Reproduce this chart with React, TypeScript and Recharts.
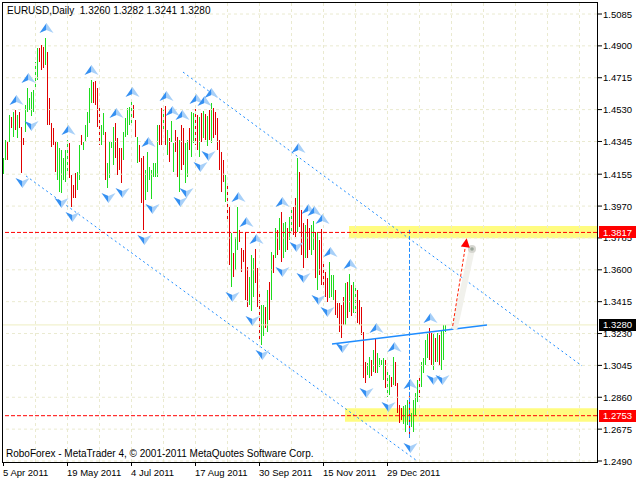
import React from 'react';
import {
  ComposedChart,
  Bar,
  Cell,
  Scatter,
  XAxis,
  YAxis,
  ReferenceLine,
  ReferenceArea,
} from 'recharts';

// ---------- DATA (EURUSD daily, bar index 0 = 5 Apr 2011) ----------
const highs = [
  1.4249, 1.4354, 1.4342, 1.4499, 1.4487, 1.4516, 1.4528, 1.4499, 1.4516, 1.4429,
  1.4365, 1.4557, 1.4655, 1.4597, 1.4632, 1.4644, 1.4806, 1.4888, 1.4888, 1.4905,
  1.4893, 1.4946, 1.4864, 1.4597, 1.4452, 1.4423, 1.4342, 1.4342, 1.4307, 1.4295,
  1.4249, 1.4295, 1.4354, 1.4336, 1.415, 1.4092, 1.4162, 1.4168, 1.4324, 1.4383,
  1.4342, 1.4441, 1.4516, 1.4655, 1.4702, 1.469, 1.4696, 1.4655, 1.4557, 1.4441,
  1.451, 1.44, 1.422, 1.4342, 1.4342, 1.4429, 1.4452, 1.4365, 1.4307, 1.4307,
  1.44, 1.4481, 1.4539, 1.4545, 1.4574, 1.4557, 1.447, 1.4371, 1.4324, 1.4249,
  1.4261, 1.4179, 1.4284, 1.4197, 1.4179, 1.422, 1.422, 1.4441, 1.4441, 1.4539,
  1.4528, 1.4551, 1.4412, 1.4365, 1.4464, 1.4336, 1.4412, 1.4371, 1.4354, 1.4441,
  1.4423, 1.4336, 1.4354, 1.4423, 1.4516, 1.451, 1.4534, 1.4499, 1.4487, 1.451,
  1.4522, 1.4504, 1.4493, 1.4528, 1.4568, 1.4539, 1.4516, 1.4481, 1.4354, 1.4284,
  1.4237, 1.415, 1.4104, 1.3965, 1.3814, 1.3698, 1.379, 1.3965, 1.3831, 1.3727,
  1.3715, 1.3819, 1.3616, 1.3558, 1.3686, 1.3669, 1.3721, 1.361, 1.3471, 1.3396,
  1.3396, 1.3384, 1.3483, 1.3529, 1.3703, 1.3686, 1.3843, 1.3831, 1.3901, 1.3936,
  1.3872, 1.3878, 1.3843, 1.3907, 1.3959, 1.3965, 1.4017, 1.4249, 1.4168, 1.3947,
  1.3872, 1.386, 1.3895, 1.3843, 1.386, 1.3883, 1.3819, 1.3819, 1.3773, 1.3837,
  1.364, 1.3587, 1.3552, 1.3645, 1.357, 1.357, 1.3483, 1.3407, 1.3407, 1.3396,
  1.3442, 1.3523, 1.3529, 1.3576, 1.3512, 1.3529, 1.3494, 1.3483, 1.3425, 1.3384,
  1.3239, 1.3065, 1.3059, 1.3094, 1.3076, 1.3134, 1.3204, 1.3117, 1.3088, 1.3076,
  1.3088, 1.3076, 1.3018, 1.2989, 1.2978, 1.3094, 1.3065, 1.2943, 1.2815, 1.2798,
  1.2809, 1.2815, 1.2844, 1.2879, 1.2769, 1.2844, 1.2885, 1.296, 1.2989, 1.3065,
  1.3088, 1.3192, 1.3239, 1.3262, 1.3233, 1.3227, 1.3204, 1.3233, 1.3221, 1.3251,
  1.328, 1.3282,
];

const lows = [
  1.4156, 1.4237, 1.4237, 1.4342, 1.4423, 1.4371, 1.4412, 1.4365, 1.4423, 1.4162,
  1.4324, 1.44, 1.4516, 1.4528, 1.4493, 1.4516, 1.4644, 1.4702, 1.4806, 1.476,
  1.4772, 1.4789, 1.4441, 1.4441, 1.4313, 1.4324, 1.4168, 1.4121, 1.4052, 1.4046,
  1.4121, 1.411, 1.4162, 1.4133, 1.3965, 1.4017, 1.4017, 1.4063, 1.4121, 1.4324,
  1.4295, 1.4342, 1.4371, 1.4452, 1.4568, 1.4568, 1.4557, 1.4429, 1.4324, 1.4324,
  1.4383, 1.4121, 1.4075, 1.4133, 1.4307, 1.4208, 1.4249, 1.415, 1.4179, 1.4104,
  1.4237, 1.4371, 1.4383, 1.4441, 1.4452, 1.4481, 1.4371, 1.422, 1.4226, 1.3988,
  1.3831, 1.4005, 1.4052, 1.4121, 1.4011, 1.4139, 1.4139, 1.4139, 1.4324, 1.4324,
  1.44, 1.4324, 1.4266, 1.4226, 1.4342, 1.4168, 1.4284, 1.4139, 1.4052, 1.4179,
  1.4208, 1.4104, 1.4139, 1.4295, 1.4255, 1.4336, 1.4324, 1.4295, 1.4255, 1.4342,
  1.4365, 1.4354, 1.4319, 1.4354, 1.4336, 1.4365, 1.4383, 1.4295, 1.4179, 1.4052,
  1.411, 1.3994, 1.3878, 1.3628, 1.35, 1.3558, 1.3599, 1.3715, 1.3761, 1.3587,
  1.3645, 1.3425, 1.3384, 1.3396, 1.3361, 1.3442, 1.3523, 1.3384, 1.3192, 1.3163,
  1.3216, 1.3262, 1.3239, 1.3309, 1.3425, 1.3581, 1.3669, 1.3686, 1.3715, 1.3645,
  1.3669, 1.3703, 1.3715, 1.3773, 1.3814, 1.3802, 1.379, 1.3819, 1.3848, 1.3686,
  1.361, 1.3669, 1.3669, 1.3715, 1.3686, 1.3715, 1.3552, 1.3483, 1.357, 1.3512,
  1.35, 1.3442, 1.3413, 1.3436, 1.3442, 1.3425, 1.3338, 1.332, 1.3239, 1.3204,
  1.328, 1.328, 1.332, 1.3355, 1.3332, 1.3349, 1.3349, 1.3291, 1.328, 1.3221,
  1.2972, 1.2943, 1.2989, 1.2972, 1.2983, 1.3007, 1.3001, 1.3001, 1.3036, 1.3047,
  1.296, 1.2914, 1.2862, 1.2873, 1.292, 1.2931, 1.2925, 1.2769, 1.2711, 1.2728,
  1.2705, 1.2658, 1.2699, 1.2624, 1.2687, 1.2658, 1.2757, 1.2833, 1.2862, 1.292,
  1.3001, 1.3047, 1.3088, 1.3076, 1.3047, 1.3018, 1.3065, 1.3065, 1.3047, 1.3018,
  1.3076, 1.3241,
];

// G = up bar (green), R = down bar (red)
const barDirection = [
  'GGRGRGRGRR', 'RGGGGGGGRR', 'RGRRRRRGGG', 'GGGRRRRGGR', 'GGGGGRRRRG',
  'GRGGGGRRRR', 'GGGGGRRGRR', 'RGGGGGGGRR', 'GRGRGGRRGR', 'RGGRGGRRGR',
  'GRGRGRRRRR', 'RGRRGRGGRR', 'RRRGGGRRRG', 'GRGRGRGRGR', 'GGRGGRRGRR',
  'RGRRGGRGRR', 'RRRGGGRRRR', 'RGRGRGGRRR', 'RRGGRGRGGG', 'GRGGRGRRRR',
  'GGGRGGGGRG', 'GGGRRGRGRG', 'GG',
].join('');

// fractal bars (Bill Williams)
const upFractals = [6, 12, 21, 32, 44, 56, 64, 72, 81, 84, 89, 96, 100, 104, 117, 121, 126, 139, 147, 152, 155, 159, 163, 173, 186, 195, 203, 213];
const downFractals = [9, 14, 29, 34, 52, 59, 70, 74, 88, 91, 98, 102, 114, 124, 129, 139, 146, 150, 157, 162, 169, 181, 192, 203, 215, 219];

const yTicks = [1.5085, 1.49, 1.4715, 1.453, 1.4345, 1.4155, 1.397, 1.3785, 1.36, 1.3415, 1.323, 1.3045, 1.286, 1.2675, 1.249];
const xTickBars = [0, 32, 64, 96, 128, 160, 192];
const xTickLabels = ['5 Apr 2011', '19 May 2011', '4 Jul 2011', '17 Aug 2011', '30 Sep 2011', '15 Nov 2011', '29 Dec 2011'];
const gridBars = [16, 32, 48, 64, 80, 96, 112, 128, 144, 160, 176, 192, 208, 224, 240, 256, 272, 288];

const levelLines = [1.3817, 1.2753];
const bidPrice = 1.328;
const priceTags = [
  { v: 1.3817, bg: '#FF0000' },
  { v: 1.328, bg: '#000000' },
  { v: 1.2753, bg: '#FF0000' },
];
const zones = [
  { i1: 172.75, i2: 296.75, p1: 1.3783, p2: 1.3854 },
  { i1: 170.75, i2: 296.75, p1: 1.2718, p2: 1.2796 },
];
const upperChannel = [{ x: 89.75, y: 1.4748 }, { x: 289.25, y: 1.3042 }];
const lowerChannel = [{ x: 11.25, y: 1.4145 }, { x: 206.75, y: 1.2491 }];
const trendLine = [{ x: 164.25, y: 1.3169 }, { x: 241.75, y: 1.328 }];
const verticalMark = [{ x: 203, y: 1.2624 }, { x: 203, y: 1.3835 }];
const targetArrow = [{ x: 224.6, y: 1.3274 }, { x: 231.3, y: 1.3762 }];
const targetTip = [{ i: 231.6, v: 1.3783 }];
const dragShadow = [{ x: 225.75, y: 1.3268 }, { x: 234.25, y: 1.3721 }];
const dragHandle = [{ i: 234.25, v: 1.3721 }];

const titleText = 'EURUSD,Daily  1.3260 1.3282 1.3241 1.3280';
const footerText = 'RoboForex - MetaTrader 4, \u00A9 2001-2011 MetaQuotes Software Corp.';

// ---------- derived rows ----------
const rows = highs.map((h, i) => ({ i, range: [lows[i], h], up: barDirection[i] === 'G' }));
const upPoints = upFractals.map((k) => ({ i: k, v: highs[k] }));
const downPoints = downFractals.map((k) => ({ i: k, v: lows[k] }));

const FONT = '"Liberation Sans", Arial, sans-serif';
const GREEN = '#1EDC1E';
const RED = '#E00000';
const BLUE = '#1E8CFF';
const GRID = '#EAEAD0';

const renderBar = (props: any) => {
  const { x, y, width, height, index } = props;
  if (x == null || y == null || isNaN(x) || isNaN(y)) return <g />;
  const row = rows[index] || props.payload || {};
  const cx = Math.floor(x + width / 2);
  const top = Math.round(Math.min(y, y + height));
  const bot = Math.round(Math.max(y, y + height));
  return (
    <rect
      x={cx}
      y={top}
      width={1}
      height={Math.max(1, bot - top)}
      fill={row.up ? GREEN : RED}
      shapeRendering="crispEdges"
    />
  );
};

const UpArrow = (props: any) => {
  const { cx, cy } = props;
  const x = Math.round(cx) + 0.5;
  const y = Math.round(cy) - 10;
  return (
    <g transform={`translate(${x},${y})`}>
      <polygon points="0,-5 -7,5 0,2" fill="#3590F2" />
      <polygon points="0,-5 7,5 0,2" fill="#A8D0F8" />
    </g>
  );
};

const DownArrow = (props: any) => {
  const { cx, cy } = props;
  const x = Math.round(cx) + 0.5;
  const y = Math.round(cy) + 10;
  return (
    <g transform={`translate(${x},${y})`}>
      <polygon points="0,5 -7,-5 0,-2" fill="#3590F2" />
      <polygon points="0,5 7,-5 0,-2" fill="#A8D0F8" />
    </g>
  );
};

const ArrowTip = (props: any) => {
  const { cx, cy } = props;
  return (
    <g transform={`translate(${cx},${cy}) rotate(9)`}>
      <polygon points="0,0 -4.5,9 4.5,9" fill="#FF0000" />
    </g>
  );
};

const DragHandle = (props: any) => {
  const { cx, cy } = props;
  return (
    <g>
      <circle cx={cx} cy={cy} r={4} fill="#D6D6D0" />
      <circle cx={cx} cy={cy} r={1.8} fill="#9AA59A" />
    </g>
  );
};

const YTick = (props: any) => {
  const { x, y, payload } = props;
  const v = payload.value as number;
  const tag = priceTags.find((t) => Math.abs(t.v - v) < 1e-9);
  if (tag) {
    return (
      <g>
        <rect x={x + 2} y={Math.round(y) - 6} width={40} height={12} fill={tag.bg} />
        <text x={x + 6} y={y + 3.5} fill="#FFFFFF" fontSize={9.5} fontFamily={FONT}>
          {v.toFixed(4)}
        </text>
      </g>
    );
  }
  return (
    <g>
      <line x1={x + 1} x2={x + 5} y1={y} y2={y} stroke="#000" />
      <text x={x + 6} y={y + 3.5} fill="#000" fontSize={9.5} fontFamily={FONT}>
        {v.toFixed(4)}
      </text>
    </g>
  );
};

const XTick = (props: any) => {
  const { x, y, payload, index } = props;
  const idx = xTickBars.indexOf(payload.value);
  return (
    <g>
      <line x1={x} x2={x} y1={y} y2={y + 4} stroke="#000" shapeRendering="crispEdges" />
      <text x={x - 0.5} y={y + 14} fill="#000" fontSize={9.5} fontFamily={FONT} textAnchor="start">
        {xTickLabels[idx >= 0 ? idx : index]}
      </text>
    </g>
  );
};

const Border = (props: any) => {
  const { x, y, width, height } = props;
  return <rect x={x - 0.5} y={y - 0.5} width={width + 1} height={height + 1} fill="none" stroke="#000" strokeWidth={1} />;
};

const Y_DOMAIN: [number, number] = [1.24842, 1.51489];
const X_DOMAIN: [number, number] = [-0.25, 296.75];

export default function App() {
  return (
    <div style={{ position: 'absolute', left: 0, top: 0, width: 636, height: 480, background: '#FFFFFF' }}>
      <ComposedChart width={636} height={480} data={rows} margin={{ top: 3, right: 0, bottom: 0, left: 3 }}>
        <XAxis
          dataKey="i"
          type="number"
          domain={X_DOMAIN}
          allowDataOverflow
          ticks={xTickBars}
          interval={0}
          height={18}
          tickSize={0}
          tickMargin={0}
          axisLine={false}
          tickLine={false}
          tick={<XTick />}
        />
        <YAxis
          orientation="right"
          type="number"
          domain={Y_DOMAIN}
          allowDataOverflow
          ticks={[...yTicks, ...priceTags.map((t) => t.v)]}
          interval={0}
          width={39}
          tickSize={0}
          tickMargin={0}
          axisLine={false}
          tickLine={false}
          tick={<YTick />}
        />

        {yTicks.map((v) => (
          <ReferenceLine key={`hg${v}`} y={v} stroke={GRID} strokeDasharray="3 3" />
        ))}
        {gridBars.map((k) => (
          <ReferenceLine key={`vg${k}`} x={k} stroke={GRID} strokeDasharray="3 3" />
        ))}

        {zones.map((z, n) => (
          <ReferenceArea key={`z${n}`} x1={z.i1} x2={z.i2} y1={z.p1} y2={z.p2} fill="#FFFC80" fillOpacity={1} stroke="none" />
        ))}
        <ReferenceLine y={bidPrice} stroke="#EEEEC2" />

        <Bar dataKey="range" barSize={1} isAnimationActive={false} shape={renderBar}>
          {rows.map((r) => (
            <Cell key={`c${r.i}`} fill={r.up ? GREEN : RED} />
          ))}
        </Bar>

        <Scatter data={upPoints} dataKey="v" isAnimationActive={false} shape={<UpArrow />} />
        <Scatter data={downPoints} dataKey="v" isAnimationActive={false} shape={<DownArrow />} />

        <ReferenceLine segment={upperChannel} stroke={BLUE} strokeDasharray="2 3" />
        <ReferenceLine segment={lowerChannel} stroke={BLUE} strokeDasharray="2 3" />
        <ReferenceLine segment={trendLine} stroke={BLUE} strokeWidth={1.5} />
        <ReferenceLine segment={verticalMark} stroke={BLUE} strokeDasharray="4 2" />

        {levelLines.map((v) => (
          <ReferenceLine key={`lv${v}`} y={v} stroke="#FF0000" strokeDasharray="4 2" />
        ))}

        <ReferenceLine segment={dragShadow} stroke="#F1F1EC" strokeWidth={6} strokeLinecap="round" />
        <Scatter data={dragHandle} dataKey="v" isAnimationActive={false} shape={<DragHandle />} />
        <ReferenceLine segment={targetArrow} stroke="#FF2000" strokeDasharray="3 2" />
        <Scatter data={targetTip} dataKey="v" isAnimationActive={false} shape={<ArrowTip />} />

        <ReferenceArea x1={X_DOMAIN[0]} x2={X_DOMAIN[1]} y1={Y_DOMAIN[0]} y2={Y_DOMAIN[1]} shape={<Border />} />
      </ComposedChart>
      <svg width={636} height={480} style={{ position: 'absolute', left: 0, top: 0, pointerEvents: 'none' }}>
        <text x={7} y={14} fontSize={10} fontFamily={FONT} fill="#000" style={{ whiteSpace: 'pre' }} xmlSpace="preserve">
          {titleText}
        </text>
        <text x={6} y={457} fontSize={10} fontFamily={FONT} fill="#000">
          {footerText}
        </text>
      </svg>
    </div>
  );
}
